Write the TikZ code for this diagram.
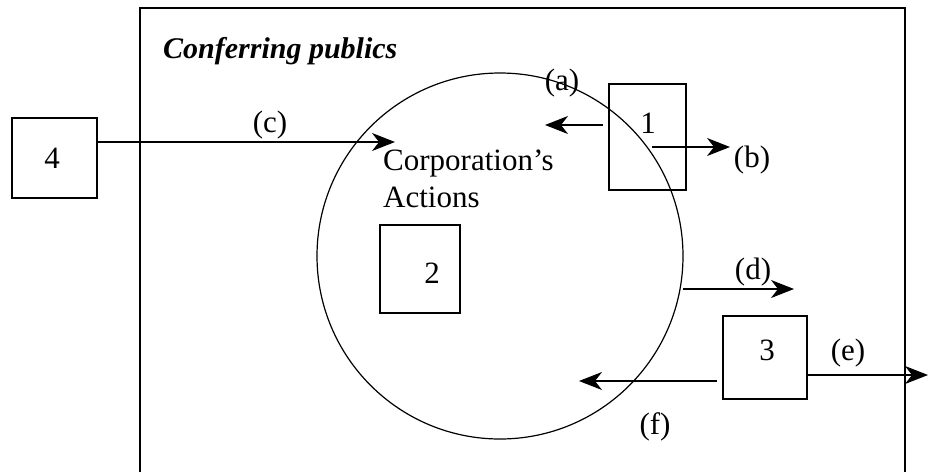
\documentclass[tikz,border=0pt]{standalone}
\usepackage{fontspec}
\setmainfont{Liberation Serif}
\usetikzlibrary{arrows.meta}
\begin{document}
\begin{tikzpicture}[x=1pt,y=-1pt,
  every node/.style={font=\fontsize{31}{36}\selectfont},
  box/.style={draw,line width=1.2pt,inner sep=0pt},
  txt/.style={inner sep=0pt},
  arr/.style={line width=1.2pt,-{Stealth[length=23pt,width=18pt,inset=7pt]}}]
\useasboundingbox (0,0) rectangle (928,472);
% frame
\coordinate (f1) at (140,472);
\coordinate (f2) at (140,8);
\coordinate (f3) at (905,8);
\coordinate (f4) at (905,472);
\draw[line width=1.6pt] (f1) -- (f2) -- (f3) -- (f4);
\node[txt,anchor=base west,font=\fontsize{30}{36}\selectfont\bfseries\itshape] (title) at (163,58) {Conferring publics};
% circle
\node[draw,circle,line width=1.2pt,minimum size=366pt,inner sep=0pt] (C) at (500,256) {};
\node[txt,anchor=base west] (corp) at (383,170) {Corporation’s};
\node[txt,anchor=base west] (act) at (383,207) {Actions};
% boxes
\node[box,minimum width=85pt,minimum height=80pt] (b4) at (54.5,158) {};
\node[txt] (n4) at (52,158) {4};
\node[box,minimum width=77pt,minimum height=106pt] (b1) at (647.5,137) {};
\node[txt] (n1) at (648,123) {1};
\node[box,minimum width=80pt,minimum height=88pt] (b2) at (420,269) {};
\node[txt] (n2) at (432,273) {2};
\node[box,minimum width=84pt,minimum height=83pt] (b3) at (765,357.5) {};
\node[txt] (n3) at (767,350) {3};
% arrow ends
\coordinate (cS) at (97,142);
\coordinate (cE) at (395,142);
\coordinate (aS) at (603,125);
\coordinate (aE) at (545,125);
\coordinate (bS) at (652,147);
\coordinate (bE) at (730,147);
\coordinate (dS) at (683,289);
\coordinate (dE) at (794,289);
\coordinate (eS) at (807,375);
\coordinate (eE) at (928,375);
\coordinate (fS) at (717,381);
\coordinate (fE) at (579,381);
\draw[arr] (cS) -- (cE);
\draw[arr] (aS) -- (aE);
\draw[arr] (bS) -- (bE);
\draw[arr] (dS) -- (dE);
\draw[arr] (eS) -- (eE);
\draw[arr] (fS) -- (fE);
% labels
\node[txt] (la) at (562,83) {(a)};
\node[txt] (lb) at (752,160) {(b)};
\node[txt] (lc) at (270,125) {(c)};
\node[txt] (ld) at (753,272) {(d)};
\node[txt] (le) at (848,353) {(e)};
\node[txt] (lf) at (655,427) {(f)};
\end{tikzpicture}
\end{document}
